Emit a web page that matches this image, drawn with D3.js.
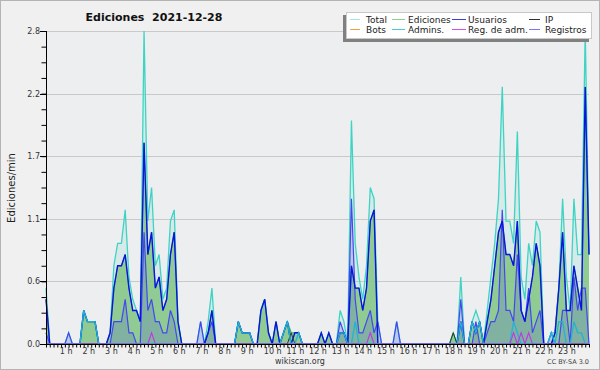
<!DOCTYPE html>
<html><head><meta charset="utf-8">
<script src="https://cdn.jsdelivr.net/npm/d3@7"></script>
<style>body{margin:0;background:#f0f0f0}svg{display:block}text{font-family:"DejaVu Sans",sans-serif;white-space:pre}</style>
</head><body><svg id="c" width="600" height="370"></svg>
<script>
// 10-minute bins, 0:00 .. 24:00 (145 points), edits per minute
const total = [
0.5,0,0,0,0,0,0.1,0,0,0,0.3,0.2,
0.2,0.2,0,0,0,0.1,0.7,0.9,0.9,1.2,0.6,0.4,
0.3,0.2,2.8,1.1,1.4,0.7,0.8,0.4,0.5,1.1,1.2,0.2,
0,0,0,0,0,0.2,0,0.2,0.5,0,0,0,
0,0,0,0.2,0.1,0.1,0.1,0,0,0.3,0.4,0.1,
0,0.2,0,0.1,0.2,0.1,0.1,0.1,0,0,0,0,
0,0.1,0,0.1,0,0,0.3,0.2,0,2.0,0.9,0.6,
0.4,0.7,1.4,1.3,0.2,0,0,0,0,0.2,0,0,
0,0,0,0,0,0,0,0,0,0,0,0,
0.1,0,0.6,0,0,0.2,0.3,0.2,0,0.3,0.6,0.9,
1.3,2.3,1.1,1.1,0.9,1.9,0.6,0.4,0.9,0.7,1.1,1.0,
0,0,0.1,0.1,0.5,1.3,0.6,0.3,1.3,0.8,0.8,2.8,
0.8];
const users = [
0.4,0,0,0,0,0,0,0,0,0,0.3,0.2,
0.2,0.2,0,0,0,0.1,0.5,0.7,0.7,0.8,0.5,0.3,
0.3,0.2,1.8,0.8,1.0,0.5,0.6,0.3,0.4,0.8,1.0,0.2,
0,0,0,0,0,0,0,0.1,0.3,0,0,0,
0,0,0,0.2,0.1,0.1,0.1,0,0,0.3,0.4,0.1,
0,0.2,0,0.1,0.2,0,0.1,0.1,0,0,0,0,
0,0.1,0,0.1,0,0,0.1,0.1,0,0.7,0.5,0.5,
0.3,0.5,1.1,1.2,0,0,0,0,0,0,0,0,
0,0,0,0,0,0,0,0,0,0,0,0,
0,0,0.2,0,0,0.2,0.1,0.2,0,0.2,0.4,0.7,
1.0,1.1,0.8,0.8,0.7,1.1,0.3,0.2,0.4,0.6,0.9,0.7,
0,0,0,0.1,0.5,1.0,0.3,0.3,0.7,0.5,0.3,2.3,
0.8];
const ip = [
0,0,0,0,0,0,0,0,0,0,0,0,
0,0,0,0,0,0,0,0,0,0,0,0,
0,0,0,0,0,0,0,0,0,0,0,0,
0,0,0,0,0,0,0,0,0,0,0,0,
0,0,0,0,0,0,0,0,0,0,0,0,
0,0,0,0,0,0.1,0,0,0,0,0,0,
0,0,0,0,0,0,0,0,0,0,0,0,
0,0,0,0,0,0,0,0,0,0,0,0,
0,0,0,0,0,0,0,0,0,0,0,0,
0.1,0,0,0,0,0,0,0,0,0,0,0,
0,0,0,0,0,0,0,0,0,0,0,0,
0,0,0,0,0,0,0,0,0,0,0,0,
0];
const edits = [
0.4,0,0,0,0,0,0,0,0,0,0.3,0.2,
0.2,0.2,0,0,0,0.1,0.5,0.7,0.7,0.8,0.5,0.3,
0.3,0.2,1.8,0.8,1.0,0.5,0.6,0.3,0.4,0.8,1.0,0.2,
0,0,0,0,0,0,0,0.1,0.3,0,0,0,
0,0,0,0.2,0.1,0.1,0.1,0,0,0.3,0.4,0.1,
0,0.2,0,0.1,0.2,0.1,0.1,0.1,0,0,0,0,
0,0.1,0,0.1,0,0,0.1,0.1,0,0.7,0.5,0.5,
0.3,0.5,1.1,1.2,0,0,0,0,0,0,0,0,
0,0,0,0,0,0,0,0,0,0,0,0,
0.1,0,0.2,0,0,0.2,0.1,0.2,0,0.2,0.4,0.7,
1.0,1.1,0.8,0.8,0.7,1.1,0.3,0.2,0.4,0.6,0.9,0.7,
0,0,0,0.1,0.5,1.0,0.3,0.3,0.7,0.5,0.3,2.3,
0.8];
const admins = [
0,0,0,0,0,0,0,0,0,0,0.3,0.2,
0.2,0.2,0,0,0,0,0,0,0,0,0,0,
0,0,0,0,0,0,0,0,0,0,0,0,
0,0,0,0,0,0,0,0,0,0,0,0,
0,0,0,0.2,0.1,0.1,0.1,0,0,0,0,0,
0,0,0,0.1,0.2,0,0,0.1,0,0,0,0,
0,0,0,0,0,0,0.1,0.1,0,0,0.2,0,
0,0,0,0,0,0,0,0,0,0,0,0,
0,0,0,0,0,0,0,0,0,0,0,0,
0,0,0.2,0,0,0.2,0.1,0.2,0,0,0,0,
0,0,0,0,0.2,0.1,0,0,0,0,0,0,
0,0,0.1,0,0.2,0.2,0,0,0.2,0.1,0.1,0,
0];
const logs = [
0.1,0,0,0,0,0,0.1,0,0,0,0,0,
0,0,0,0,0,0,0.2,0.2,0.2,0.4,0.1,0.1,
0,0,1.0,0.3,0.4,0.2,0.2,0.1,0.1,0.3,0.2,0,
0,0,0,0,0,0.2,0,0.1,0.2,0,0,0,
0,0,0,0,0,0,0,0,0,0,0,0,
0,0,0,0,0,0,0,0,0,0,0,0,
0,0,0,0,0,0,0.2,0.1,0,1.3,0.4,0.1,
0.1,0.2,0.3,0.1,0.2,0,0,0,0,0.2,0,0,
0,0,0,0,0,0,0,0,0,0,0,0,
0,0,0.4,0,0,0,0.2,0,0,0.1,0.2,0.2,
0.3,1.2,0.3,0.3,0.2,0.8,0.3,0.2,0.5,0.1,0.2,0.3,
0,0,0.1,0,0,0.3,0.3,0,0.6,0.3,0.5,0.5,
0];
const adminLogs = [
0,0,0,0,0,0,0,0,0,0,0,0,
0,0,0,0,0,0,0,0,0,0,0,0,
0,0,0,0,0.1,0,0,0,0,0,0,0,
0,0,0,0,0,0,0,0,0,0,0,0,
0,0,0,0,0,0,0,0,0,0,0,0,
0,0,0,0,0,0,0,0,0,0,0,0,
0,0,0,0,0,0,0,0,0,0,0,0,
0,0,0.1,0,0,0,0,0,0,0,0,0,
0,0,0,0,0,0,0,0,0,0,0,0,
0,0,0,0,0,0,0,0,0,0,0,0,
0,0,0,0,0.1,0,0.1,0,0.1,0,0,0,
0,0,0,0,0,0,0,0,0,0,0,0,
0];
const yTickValues = [0, 0.56, 1.12, 1.68, 2.24, 2.8];
const yTickLabels = ["0.0", "0.6", "1.1", "1.7", "2.2", "2.8"];
const hourLabels = ["1 h","2 h","3 h","4 h","5 h","6 h","7 h","8 h","9 h","10 h","11 h","12 h",
  "13 h","14 h","15 h","16 h","17 h","18 h","19 h","20 h","21 h","22 h","23 h"];
const legendNames = ["Total","Ediciones","Usuarios","IP","Bots","Admins.","Reg. de adm.","Registros"];
const legendColors = ["#a6e8de","#8ed08e","#3c3cdc","#303030","#f0a040","#48c8dc","#d050e8","#7878f0"];

const svg = d3.select("#c");
const L = 46, R = 589, T = 31, B = 344;
const x = d3.scaleLinear().domain([0, 144]).range([L, R]);
const y = d3.scaleLinear().domain([0, 2.8]).range([B, T]);

svg.append("rect").attr("x",0.5).attr("y",0.5).attr("width",599).attr("height",369)
  .attr("fill","#f0f0f0").attr("stroke","#b4b4b4");
svg.append("rect").attr("x",L).attr("y",T).attr("width",R-L).attr("height",B-T).attr("fill","#eceef0");

svg.append("g").selectAll("line").data(yTickValues.slice(1)).join("line")
  .attr("x1",L).attr("x2",R).attr("y1",d=>Math.round(y(d))+0.5).attr("y2",d=>Math.round(y(d))+0.5)
  .attr("stroke","#c9c9c9").attr("stroke-width",1);

const idx = d3.range(total.length);
const area = arr => d3.area().x(i=>x(i)).y0(B).y1(i=>y(arr[i]))(idx);
const line = arr => d3.line().x(i=>x(i)).y(i=>y(arr[i]))(idx);

const g = svg.append("g");
g.append("path").attr("d",area(total)).attr("fill","#40d0c0").attr("fill-opacity",0.12);
g.append("path").attr("d",area(edits)).attr("fill","#86c686").attr("fill-opacity",0.88);
g.append("path").attr("d",area(logs)).attr("fill","#3c3ce6").attr("fill-opacity",0.18);
g.append("path").attr("d",line(total)).attr("fill","none").attr("stroke","#3ed4c4").attr("stroke-width",1.3);
g.append("path").attr("d",line(edits)).attr("fill","none").attr("stroke","#5aa85a").attr("stroke-width",1);
g.append("path").attr("d",line(logs)).attr("fill","none").attr("stroke","#4646f0").attr("stroke-width",1.2);
g.append("path").attr("d",line(users)).attr("fill","none").attr("stroke","#0814e0").attr("stroke-width",1.4);
g.append("path").attr("d",line(ip)).attr("fill","none").attr("stroke","#2a3a2a").attr("stroke-width",1);
g.append("path").attr("d",line(admins)).attr("fill","none").attr("stroke","#20b4d4").attr("stroke-width",1.3);
g.append("path").attr("d",line(adminLogs)).attr("fill","none").attr("stroke","#c038e4").attr("stroke-width",1.1);

const yAxis = d3.axisLeft(y).tickValues(d3.range(0, 21).map(k=>k*0.14)).tickSize(5).tickFormat("");
const ya = svg.append("g").attr("transform",`translate(${L+0.5},0)`).call(yAxis);
ya.select(".domain").remove();
ya.selectAll(".tick line").attr("stroke","#000");
svg.append("line").attr("x1",L+0.5).attr("x2",L+0.5).attr("y1",T).attr("y2",B).attr("stroke","#000");
svg.append("g").selectAll("line").data(yTickValues).join("line")
  .attr("x1",L-6).attr("x2",L).attr("y1",d=>Math.round(y(d))+0.5).attr("y2",d=>Math.round(y(d))+0.5).attr("stroke","#000");
svg.append("g").selectAll("text").data(yTickValues).join("text")
  .attr("x",L-6).attr("y",d=>y(d)+3).attr("text-anchor","end").attr("font-size",8).attr("fill","#333")
  .text((d,i)=>yTickLabels[i]);

const xAxis = d3.axisBottom(x).tickValues(d3.range(0,145)).tickSize(3).tickFormat("");
const xa = svg.append("g").attr("transform",`translate(0,${B+0.5})`).call(xAxis);
xa.select(".domain").remove();
xa.selectAll(".tick line").attr("stroke","#000");
svg.append("line").attr("x1",L).attr("x2",R+1).attr("y1",B+0.5).attr("y2",B+0.5).attr("stroke","#000");
svg.append("g").selectAll("text").data(hourLabels).join("text")
  .attr("x",(d,i)=>x((i+1)*6) + (d.length>3?0.5:-2.5)).attr("y",354).attr("text-anchor","middle")
  .attr("font-size",8).attr("fill","#333").text(d=>d);

svg.append("text").attr("transform","translate(15,188) rotate(-90)").attr("text-anchor","middle")
  .attr("font-size",10).attr("fill","#222").text("Ediciones/min");
svg.append("text").attr("x",154).attr("y",21).attr("text-anchor","middle").attr("font-size",11)
  .attr("font-weight","bold").attr("fill","#111").attr("xml:space","preserve").text("Ediciones  2021-12-28");
svg.append("text").attr("x",300).attr("y",364).attr("text-anchor","middle").attr("font-size",8)
  .attr("fill","#333").text("wikiscan.org");
svg.append("text").attr("x",589).attr("y",364).attr("text-anchor","end").attr("font-size",6.5)
  .attr("fill","#444").text("CC BY-SA 3.0");

svg.append("rect").attr("x",343).attr("y",15).attr("width",246).attr("height",27).attr("fill","#808080");
svg.append("rect").attr("x",346.5).attr("y",12.5).attr("width",245).attr("height",26).attr("fill","#fff").attr("stroke","#c8c8c8");
const colSw = [[350,360],[392,405],[452,466],[529,540]];
const colTx = [366,408,468,545];
legendNames.forEach((n,k)=>{
  const c = k%4, r = Math.floor(k/4);
  const yy = 19.5 + r*10;
  svg.append("line").attr("x1",colSw[c][0]).attr("x2",colSw[c][1]).attr("y1",yy).attr("y2",yy)
    .attr("stroke",legendColors[k]).attr("stroke-width",1);
  svg.append("text").attr("x",colTx[c]).attr("y",yy+3.5).attr("font-size",9).attr("fill","#222").text(n);
});
</script></body></html>
